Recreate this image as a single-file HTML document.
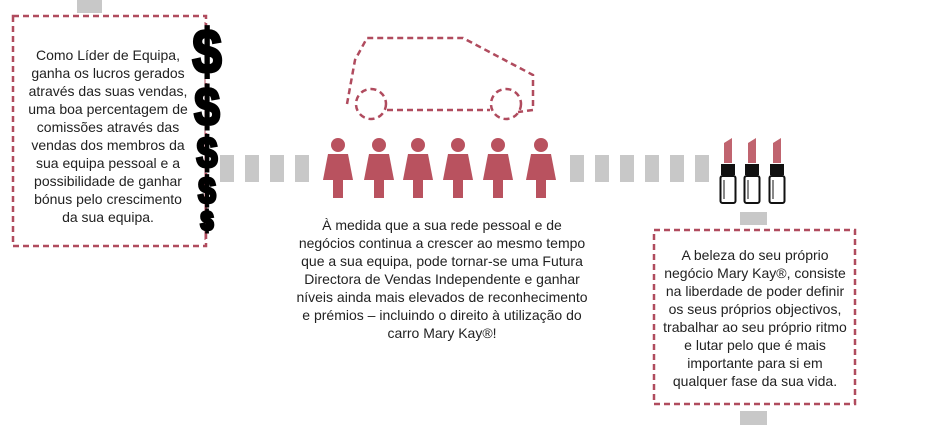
<!DOCTYPE html>
<html><head><meta charset="utf-8"><style>
body{margin:0;width:943px;height:429px;background:#fff;position:relative;overflow:hidden;font-family:"Liberation Sans",Arial,sans-serif;color:#222}
.t{position:absolute;text-align:center;font-size:14px;line-height:18px;white-space:nowrap}
.g{position:absolute;background:#c8c8c8}
.d{position:absolute;font-family:"Liberation Sans",Arial,sans-serif;font-weight:bold;color:#000;-webkit-text-stroke:3px #000;transform:translateX(-50%) scaleX(0.85);line-height:1}
</style></head><body>
<svg width="943" height="429" style="position:absolute;left:0;top:0">
<g fill="none" stroke="#b04b5e" stroke-width="2.5" stroke-dasharray="6,4">
<rect x="13" y="16" width="193" height="230"/>
<rect x="654" y="230" width="201" height="174"/>
<path d="M347 104 L355 60 L367 38 L463 38 L533 75 L533 110 L518 112 M387 110 L490 110"/>
<circle cx="371" cy="104" r="15"/>
<circle cx="506" cy="104" r="15"/>
</g>
<line x1="205" y1="22" x2="205" y2="240" stroke="#b04b5e" stroke-width="1"/>
<g fill="#b9525f">
<g id="p"><circle cx="338" cy="145" r="7"/><path d="M328 154 L348 154 L353 180 L323 180Z"/><rect x="333" y="178" width="10" height="20"/></g>
<use href="#p" x="41"/><use href="#p" x="80"/><use href="#p" x="120"/><use href="#p" x="160"/><use href="#p" x="203"/>
</g>
<g id="l">
<path d="M724 153 L724 143 L732 138 L732 163 L724 163Z" fill="#c0646f"/>
<rect x="721" y="164" width="14" height="11" fill="#111"/>
<rect x="720.5" y="176" width="15" height="27" rx="2" fill="#fff" stroke="#111" stroke-width="2"/>
<line x1="724" y1="180" x2="724" y2="199" stroke="#111" stroke-width="1"/>
</g>
<use href="#l" x="24"/><use href="#l" x="49"/>
</svg>
<div class="g" style="left:77px;top:0;width:25px;height:13px"></div>
<div class="g" style="left:220px;top:155px;width:14px;height:27px"></div>
<div class="g" style="left:245px;top:155px;width:14px;height:27px"></div>
<div class="g" style="left:270px;top:155px;width:14px;height:27px"></div>
<div class="g" style="left:295px;top:155px;width:14px;height:27px"></div>
<div class="g" style="left:570px;top:155px;width:14px;height:27px"></div>
<div class="g" style="left:595px;top:155px;width:14px;height:27px"></div>
<div class="g" style="left:620px;top:155px;width:14px;height:27px"></div>
<div class="g" style="left:645px;top:155px;width:14px;height:27px"></div>
<div class="g" style="left:670px;top:155px;width:14px;height:27px"></div>
<div class="g" style="left:695px;top:155px;width:14px;height:27px"></div>
<div class="g" style="left:740px;top:212px;width:27px;height:13px"></div>
<div class="g" style="left:740px;top:411px;width:27px;height:14px"></div>
<div class="d" style="left:207px;top:22px;font-size:62px">$</div>
<div class="d" style="left:207px;top:80px;font-size:54px">$</div>
<div class="d" style="left:207px;top:132px;font-size:44px">$</div>
<div class="d" style="left:207px;top:172px;font-size:37px">$</div>
<div class="d" style="left:207px;top:208px;font-size:27px">$</div>
<div class="t" style="left:10px;top:46px;width:196px">Como Líder de Equipa,<br>ganha os lucros gerados<br>através das suas vendas,<br>uma boa percentagem de<br>comissões através das<br>vendas dos membros da<br>sua equipa pessoal e a<br>possibilidade de ganhar<br>bónus pelo crescimento<br>da sua equipa.</div>
<div class="t" style="left:282px;top:216px;width:320px">À medida que a sua rede pessoal e de<br>negócios continua a crescer ao mesmo tempo<br>que a sua equipa, pode tornar-se uma Futura<br>Directora de Vendas Independente e ganhar<br>níveis ainda mais elevados de reconhecimento<br>e prémios – incluindo o direito à utilização do<br>carro Mary Kay®!</div>
<div class="t" style="left:655px;top:246px;width:200px">A beleza do seu próprio<br>negócio Mary Kay®, consiste<br>na liberdade de poder definir<br>os seus próprios objectivos,<br>trabalhar ao seu próprio ritmo<br>e lutar pelo que é mais<br>importante para si em<br>qualquer fase da sua vida.</div>
</body></html>
